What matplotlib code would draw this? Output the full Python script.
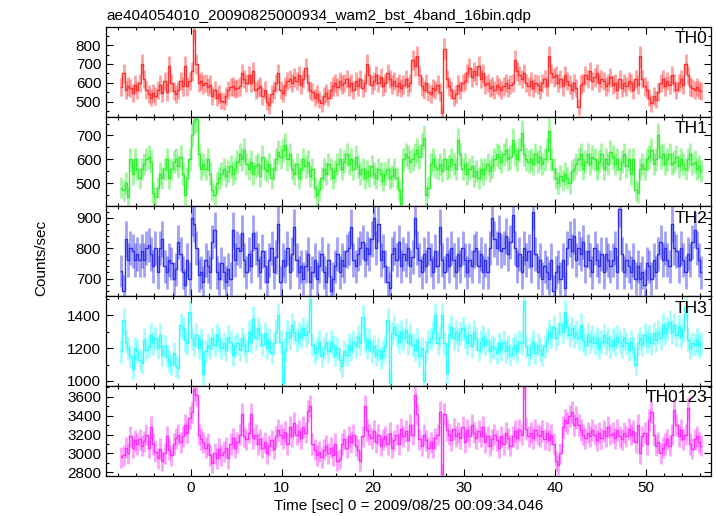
import numpy as np
import matplotlib
matplotlib.use("Agg")
import matplotlib.pyplot as plt
from matplotlib.ticker import MultipleLocator

plt.rcParams["font.family"] = ["Liberation Sans", "DejaVu Sans"]

# 0.25 s bins, first bin starts at -7.75 s; one line = 1 s (4 bins)
BIN = 0.25
T_START = -7.75

th0 = [
    575, 650, 560, 580,  570, 545, 590, 560,  600, 700, 620, 560,  540, 520, 545, 530,
    560, 590, 545, 610,  550, 690, 600, 555,  540, 560, 610, 580,  690, 580, 610, 660,
    880, 700, 600, 610,  590, 600, 575, 590,  530, 560, 520, 540,  505, 500, 530, 560,
    575, 580, 565, 570,  580, 650, 620, 600,  640, 600, 660, 560,  570, 580, 530, 560,
    500, 480, 540, 560,  600, 650, 560, 545,  580, 610, 620, 600,  630, 610, 640, 590,
    620, 680, 600, 560,  550, 520, 540, 510,  490, 530, 545, 520,  560, 580, 600, 575,
    610, 590, 600, 620,  580, 600, 560, 610,  580, 620, 570, 600,  700, 640, 590, 610,
    640, 600, 630, 580,  600, 650, 620, 590,  610, 580, 600, 570,  590, 620, 580, 600,
    720, 690, 740, 640,  580, 560, 600, 550,  540, 570, 560, 590,  550, 440, 780, 620,
    580, 560, 520, 540,  590, 560, 600, 610,  650, 680, 630, 660,  640, 690, 620, 650,
    590, 600, 570, 580,  560, 590, 575, 560,  580, 600, 570, 590,  600, 720, 660, 640,
    620, 650, 600, 580,  610, 570, 600, 590,  560, 600, 620, 580,  740, 650, 630, 640,
    600, 620, 580, 640,  610, 590, 560, 600,  570, 470, 590, 600,  640, 620, 660, 610,
    630, 650, 600, 620,  610, 580, 600, 630,  590, 600, 560, 620,  570, 600, 580, 610,
    600, 560, 620, 590,  740, 620, 580, 560,  520, 490, 530, 510,  550, 600, 620, 580,
    610, 590, 640, 600,  560, 600, 620, 590,  700, 640, 580, 570,  560, 575, 560, 555,
]

th1 = [
    480, 470, 500, 440,  600, 540, 600, 560,  520, 560, 580, 600,  610, 590, 460, 440,
    480, 540, 520, 560,  600, 520, 560, 590,  600, 570, 610, 540,  450, 520, 600, 700,
    760, 770, 620, 560,  580, 560, 600, 540,  470, 450, 500, 520,  540, 560, 530, 550,
    570, 540, 560, 590,  620, 600, 640, 580,  560, 590, 540, 570,  580, 530, 610, 560,
    550, 580, 520, 560,  600, 630, 610, 640,  660, 600, 620, 560,  540, 580, 520, 560,
    600, 570, 590, 530,  560, 480, 450, 470,  520, 560, 540, 580,  560, 520, 550, 580,
    600, 560, 590, 620,  580, 600, 560, 610,  570, 540, 560, 520,  550, 530, 570, 540,
    520, 560, 540, 510,  540, 560, 520, 530,  560, 520, 470, 410,  600, 620, 610, 590,
    600, 620, 640, 610,  660, 690, 450, 480,  580, 600, 570, 560,  580, 550, 600, 560,
    570, 600, 580, 560,  680, 620, 560, 580,  540, 560, 570, 530,  550, 520, 560, 540,
    560, 580, 550, 570,  600, 620, 610, 590,  620, 640, 600, 610,  680, 620, 600, 640,
    710, 620, 600, 590,  600, 580, 620, 590,  610, 580, 600, 640,  720, 600, 560, 520,
    500, 530, 510, 540,  520, 500, 550, 560,  580, 600, 620, 560,  590, 620, 580, 610,
    600, 560, 590, 620,  560, 600, 580, 630,  610, 580, 600, 560,  590, 620, 570, 600,
    540, 600, 470, 460,  560, 580, 560, 600,  610, 640, 580, 600,  700, 610, 620, 580,
    600, 620, 580, 590,  610, 570, 600, 580,  560, 600, 620, 580,  590, 560, 570, 550,
]

th2 = [
    725, 660, 830, 760,  800, 790, 760, 780,  760, 790, 760, 800,  810, 780, 740, 800,
    720, 800, 830, 740,  720, 760, 750, 700,  730, 820, 780, 720,  680, 760, 700, 900,
    880, 800, 710, 720,  690, 760, 740, 720,  820, 860, 720, 700,  750, 720, 690, 730,
    700, 860, 760, 800,  790, 850, 760, 720,  780, 740, 850, 800,  760, 720, 790, 740,
    690, 760, 800, 720,  770, 880, 690, 760,  740, 800, 720, 780,  870, 760, 720, 740,
    700, 740, 780, 690,  720, 760, 700, 740,  780, 720, 690, 760,  660, 700, 740, 780,
    720, 760, 740, 790,  800, 870, 760, 740,  780, 800, 820, 760,  800, 780, 830, 900,
    800, 880, 760, 790,  740, 690, 670, 780,  800, 760, 820, 740,  780, 760, 800, 740,
    770, 900, 800, 760,  720, 780, 740, 800,  760, 720, 790, 740,  870, 760, 720, 780,
    740, 800, 760, 720,  780, 740, 800, 760,  720, 760, 740, 790,  800, 740, 780, 720,
    760, 720, 800, 900,  830, 800, 850, 790,  800, 840, 780, 820,  910, 800, 740, 780,
    720, 800, 760, 790,  740, 920, 780, 720,  760, 700, 740, 720,  700, 760, 660, 720,
    740, 700, 760, 670,  800, 830, 790, 840,  760, 800, 780, 820,  740, 790, 760, 720,
    800, 760, 740, 780,  720, 780, 760, 740,  760, 800, 720, 930,  780, 720, 760, 740,
    720, 760, 700, 740,  700, 720, 680, 750,  740, 700, 760, 720,  780, 820, 760, 800,
    760, 740, 880, 800,  790, 740, 800, 760,  720, 780, 760, 820,  860, 800, 760, 720,
]

th3 = [
    1180, 1370, 1240, 1200,  1150, 1070, 1200, 1180,  1130, 1110, 1250, 1190,  1210, 1280, 1230, 1260,
    1200, 1280, 1160, 1210,  1150, 1120, 1100, 1170,  1090, 1080, 1340, 1320,  1250, 1230, 1420, 1260,
    1220, 1280, 1200, 1250,  1040, 1180, 1220, 1200,  1260, 1220, 1280, 1250,  1200, 1230, 1190, 1270,
    1240, 1160, 1210, 1230,  1190, 1260, 1220, 1180,  1300, 1240, 1380, 1260,  1320, 1280, 1220, 1290,
    1200, 1250, 1170, 1230,  1300, 1400, 1240, 990,   1190, 1300, 1260, 1340,  1300, 1250, 1290, 1270,
    1320, 1280, 1300, 1500,  1220, 1170, 1200, 1240,  1150, 1200, 1230, 1180,  1240, 1210, 1160, 1200,
    1130, 1090, 1180, 1160,  1220, 1190, 1240, 1210,  1270, 1230, 1390, 1250,  1200, 1250, 1180, 1210,
    1160, 1190, 1140, 1180,  1210, 1370, 990, 1290,   1330, 1280, 1240, 1300,  1260, 1310, 1230, 1280,
    1220, 1190, 1250, 1150,  1200, 1000, 1180, 1240,  1260, 1300, 1400, 1230,  1270, 1400, 1230, 1050,
    1280, 1330, 1260, 1300,  1250, 1290, 1320, 1270,  1230, 1280, 1210, 1300,  1260, 1190, 1240, 1270,
    1220, 1250, 1180, 1210,  1200, 1170, 1230, 1190,  1240, 1180, 1210, 1160,  1200, 1220, 1180, 1240,
    1230, 1490, 1210, 1160,  1200, 1240, 1170, 1220,  1190, 1160, 1210, 1250,  1300, 1270, 1330, 1260,
    1290, 1350, 1300, 1420,  1330, 1280, 1320, 1270,  1300, 1260, 1340, 1250,  1220, 1280, 1240, 1270,
    1230, 1260, 1200, 1240,  1280, 1230, 1260, 1210,  1250, 1220, 1270, 1240,  1210, 1260, 1230, 1190,
    1240, 1200, 1100, 1230,  1260, 1220, 1280, 1240,  1270, 1230, 1290, 1250,  1300, 1260, 1340, 1290,
    1320, 1360, 1300, 1340,  1280, 1330, 1270, 1310,  1450, 1250, 1200, 1230,  1220, 1250, 1210, 1230,
]

th0123 = [
    2960, 2980, 3060, 3000,  3180, 3060, 3140, 3100,  3150, 3080, 3130, 3200,  3060, 3280, 3100, 3020,
    2950, 3050, 2920, 3000,  3180, 3040, 2980, 3100,  3160, 3200, 3120, 3180,  3300, 3220, 3380, 3440,
    3680, 3620, 3200, 3150,  3120, 3060, 3100, 2980,  2900, 3000, 2950, 3050,  2980, 3020, 3060, 2950,
    3100, 3160, 3060, 3120,  3200, 3420, 3180, 3150,  3220, 3420, 3160, 3200,  3100, 3150, 3060, 3120,
    3000, 3080, 3140, 3050,  3180, 3250, 3200, 3160,  3230, 3100, 3280, 3180,  3320, 3200, 3240, 3160,
    3280, 3220, 3450, 3500,  3100, 3040, 2980, 3020,  2960, 3040, 3080, 3000,  3060, 2980, 3100, 2920,
    2940, 3100, 3150, 3060,  3180, 3120, 3200, 3080,  3040, 2920, 3180, 3500,  3250, 3200, 3160, 3240,
    3120, 3200, 3080, 3150,  3180, 3100, 3220, 3060,  3140, 3200, 3100, 3260,  3180, 3240, 3140, 3300,
    3200, 3620, 3420, 3150,  3080, 3200, 3140, 3060,  3120, 3060, 3160, 3200,  3440, 2780, 3420, 3250,
    3200, 3140, 3260, 3180,  3220, 3160, 3280, 3120,  3250, 3180, 3300, 3220,  3160, 3240, 3180, 3280,
    3120, 3180, 3080, 3150,  3200, 3140, 3060, 3180,  3100, 3220, 3160, 3080,  3180, 3240, 3160, 3250,
    3200, 3700, 3260, 3180,  3220, 3160, 3250, 3200,  3180, 3240, 3150, 3220,  3140, 3200, 3100, 2920,
    2880, 3000, 3280, 3350,  3320, 3400, 3440, 3300,  3380, 3300, 3250, 3200,  3160, 3220, 3180, 3250,
    3200, 3140, 3220, 3160,  3240, 3180, 3280, 3200,  3220, 3160, 3250, 3180,  3150, 3220, 3180, 3260,
    3200, 3240, 3120, 3300,  3000, 3180, 3220, 3100,  3350, 3440, 3200, 3080,  3120, 3000, 3060, 3100,
    3150, 3080, 3200, 3460,  3300, 3180, 3250, 3150,  3200, 3480, 3100, 3050,  3150, 3180, 3120, 3080,
]

names = ["TH0", "TH1", "TH2", "TH3", "TH0123"]
series = [th0, th1, th2, th3, th0123]
colors = ["#ff3030", "#30f030", "#3030f0", "#30ffff", "#ff30ff"]
ylims = [(420, 897), (402, 779), (642, 937), (969, 1517), (2765, 3713)]
ymajor = [100, 100, 100, 200, 200]
yminor = [50, 50, 20, 100, 100]

fig, axes = plt.subplots(5, 1, figsize=(7.17, 5.16), dpi=100, sharex=True)
fig.subplots_adjust(left=0.148, right=0.992, top=0.948, bottom=0.078, hspace=0)

for ax, name, vals, col, yl, ma, mi in zip(axes, names, series, colors, ylims, ymajor, yminor):
    rate = np.array(vals, dtype=float)
    t = T_START + BIN * (np.arange(len(rate)) + 0.5)
    err = np.sqrt(rate * BIN) / BIN
    ax.errorbar(t, rate, yerr=err, fmt="none", ecolor=col, elinewidth=2.0, alpha=0.45)
    ax.step(t, rate, where="mid", color=col, lw=1.0)
    ax.set_ylim(*yl)
    ax.yaxis.set_major_locator(MultipleLocator(ma))
    ax.yaxis.set_minor_locator(MultipleLocator(mi))
    ax.xaxis.set_major_locator(MultipleLocator(10))
    ax.xaxis.set_minor_locator(MultipleLocator(2))
    ax.tick_params(which="both", direction="in", top=True, right=True, labelsize=11, width=0.8)
    ax.tick_params(which="major", length=5)
    ax.tick_params(which="minor", length=2.5)
    for sp in ax.spines.values():
        sp.set_linewidth(0.9)
    ax.text(0.994, 0.95, name, transform=ax.transAxes, ha="right", va="top", fontsize=12.5)

axes[0].set_xlim(-9.3, 57.2)
axes[0].set_title("ae404054010_20090825000934_wam2_bst_4band_16bin.qdp",
                  loc="left", fontsize=11, pad=5)
axes[-1].set_xlabel("Time [sec] 0 = 2009/08/25 00:09:34.046", fontsize=11, labelpad=3)
fig.text(0.058, 0.5, "Counts/sec", rotation=90, ha="center", va="center", fontsize=11)

fig.savefig("out.png", dpi=100)
